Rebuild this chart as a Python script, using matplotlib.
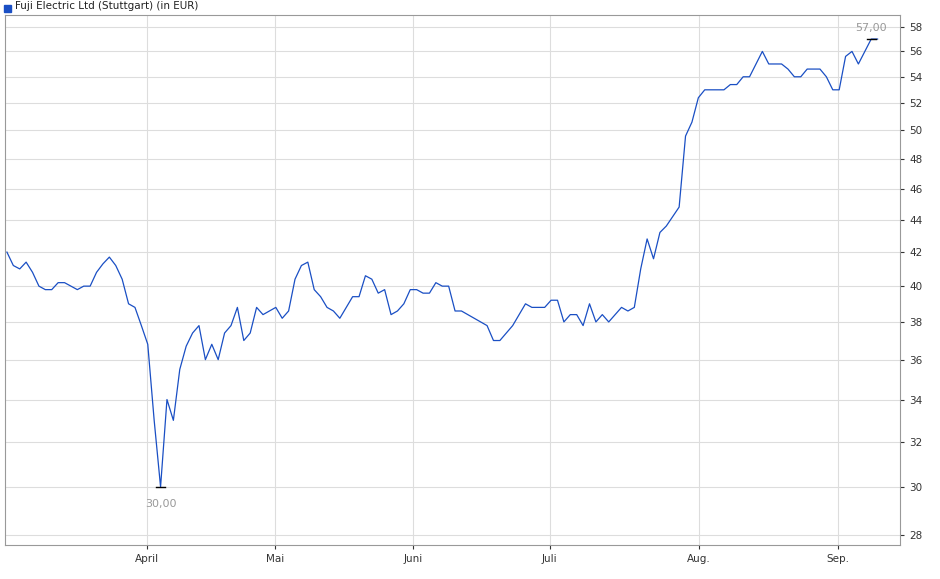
import matplotlib.pyplot as plt
from matplotlib.ticker import FixedLocator, NullLocator

# closing prices, one per trading day
prices = [42.0, 41.2, 41.0, 41.4, 40.8, 40.0, 39.8, 39.8, 40.2, 40.2, 40.0, 39.8, 40.0, 40.0,
          40.8, 41.3, 41.7, 41.2, 40.4, 39.0, 38.8, 37.8, 36.8, 33.0, 30.0, 34.0, 33.0, 35.5,
          36.7, 37.4, 37.8, 36.0, 36.8, 36.0, 37.4, 37.8, 38.8, 37.0, 37.4, 38.8, 38.4, 38.6,
          38.8, 38.2, 38.6, 40.4, 41.2, 41.4, 39.8, 39.4, 38.8, 38.6, 38.2, 38.8, 39.4, 39.4,
          40.6, 40.4, 39.6, 39.8, 38.4, 38.6, 39.0, 39.8, 39.8, 39.6, 39.6, 40.2, 40.0, 40.0,
          38.6, 38.6, 38.4, 38.2, 38.0, 37.8, 37.0, 37.0, 37.4, 37.8, 38.4, 39.0, 38.8, 38.8,
          38.8, 39.2, 39.2, 38.0, 38.4, 38.4, 37.8, 39.0, 38.0, 38.4, 38.0, 38.4, 38.8, 38.6,
          38.8, 41.0, 42.8, 41.6, 43.2, 43.6, 44.2, 44.8, 49.6, 50.6, 52.4, 53.0, 53.0, 53.0,
          53.0, 53.4, 53.4, 54.0, 54.0, 55.0, 56.0, 55.0, 55.0, 55.0, 54.6, 54.0, 54.0, 54.6,
          54.6, 54.6, 54.0, 53.0, 53.0, 55.6, 56.0, 55.0, 56.0, 57.0, 57.0]
days = list(range(len(prices)))
# trading-day index of the first day of each month
month_pos = [21.9, 41.9, 63.4, 84.8, 108.1, 129.8]
month_labels = ['April', 'Mai', 'Juni', 'Juli', 'Aug.', 'Sep.']
y_ticks = list(range(28, 59, 2))

fig = plt.figure(figsize=(9.4, 5.79), dpi=100)
ax = fig.add_axes([5 / 940, 34 / 579, 895 / 940, 530 / 579])
ax.plot(days, prices, color='#1a4fc4', lw=0.9)
ax.set_yscale('log')
ax.set_ylim(27.6, 59.0)
ax.yaxis.set_major_locator(FixedLocator(y_ticks))
ax.yaxis.set_minor_locator(NullLocator())
ax.set_yticklabels([str(v) for v in y_ticks])
ax.yaxis.tick_right()
ax.set_xlim(-0.3, 139.5)
ax.set_xticks(month_pos)
ax.set_xticklabels(month_labels)
ax.tick_params(labelsize=7.5, length=3, colors='#333333')
ax.grid(color='#dddddd', lw=0.8)
for s in ax.spines.values():
    s.set_color('#999999')

# min / max markers
imin = prices.index(min(prices))
imax = prices.index(max(prices))
for i, off, va in [(imin, -0.5, 'top'), (imax, 0.5, 'bottom')]:
    ax.plot([i - 0.7, i + 0.7], [prices[i]] * 2, color='black', lw=1)
    ax.text(i, prices[i] + off, f'{prices[i]:.2f}'.replace('.', ','),
            ha='center', va=va, fontsize=8, color='#999999')

fig.patches.append(plt.Rectangle((4 / 940, 1 - 12 / 579), 7 / 940, 7 / 579,
                                 transform=fig.transFigure, color='#1a4fc4'))
fig.text(15 / 940, 1 - 6 / 579, 'Fuji Electric Ltd (Stuttgart) (in EUR)',
         fontsize=7.5, va='center', color='#222222')

fig.savefig('out.png', dpi=100)
